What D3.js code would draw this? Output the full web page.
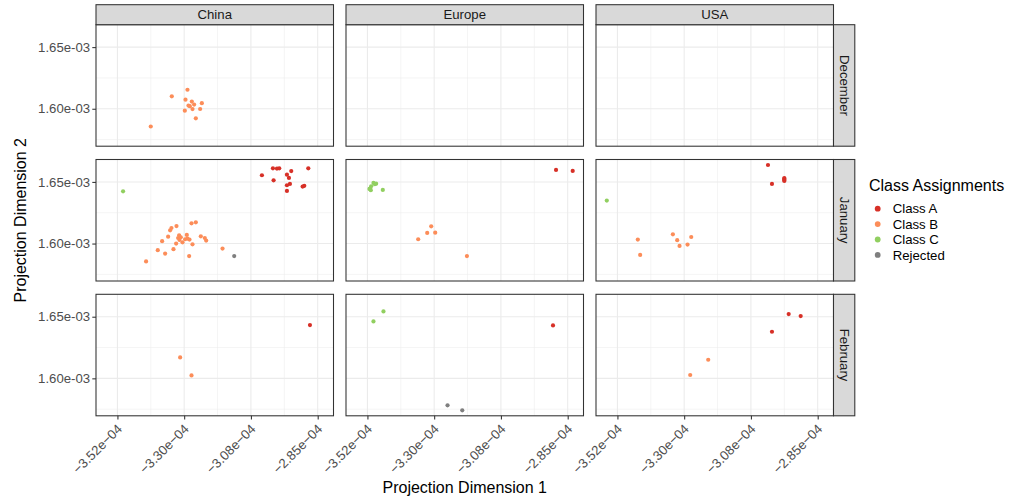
<!DOCTYPE html>
<html><head><meta charset="utf-8">
<script src="https://cdn.jsdelivr.net/npm/d3@7"></script>
<style>body{margin:0;background:#fff} text{font-family:"Liberation Sans",Arial,Helvetica,sans-serif}</style>
</head><body><svg id="chart" width="1010" height="498"></svg>
<script>
const regions = ["China", "Europe", "USA"];
const months = ["December", "January", "February"];
const classes = ["Class A", "Class B", "Class C", "Rejected"];
const classColors = ["#d73027", "#fc8d59", "#91cf60", "#7f7f7f"];
const xBreaks = [-3.52e-4, -3.2978e-4, -3.0756e-4, -2.8533e-4];
const xTickLabels = ["\u22123.52e\u221204", "\u22123.30e\u221204", "\u22123.08e\u221204", "\u22122.85e\u221204"];
const yBreaks = [1.60e-3, 1.65e-3];
const yTickLabels = ["1.60e-03", "1.65e-03"];
const xTitle = "Projection Dimension 1";
const yTitle = "Projection Dimension 2";
const legendTitle = "Class Assignments";

// points: [x, y, class]
const chinaDecember = [
  [-3.2868e-4,1.6154e-3,"Class B"],[-3.339e-4,1.6101e-3,"Class B"],[-3.2934e-4,1.6074e-3,"Class B"],
  [-3.2723e-4,1.6058e-3,"Class B"],[-3.239e-4,1.6045e-3,"Class B"],[-3.2646e-4,1.6034e-3,"Class B"],
  [-3.2835e-4,1.6026e-3,"Class B"],[-3.279e-4,1.6021e-3,"Class B"],[-3.2446e-4,1.5998e-3,"Class B"],
  [-3.27e-4,1.5997e-3,"Class B"],[-3.2956e-4,1.5984e-3,"Class B"],[-3.259e-4,1.5922e-3,"Class B"],
  [-3.409e-4,1.5856e-3,"Class B"]
];
const europeDecember = [];
const usaDecember = [];
const chinaJanuary = [
  [-3.039e-4,1.6554e-3,"Class A"],[-3.0023e-4,1.661e-3,"Class A"],[-2.989e-4,1.6608e-3,"Class A"],
  [-2.9813e-4,1.661e-3,"Class A"],[-2.8846e-4,1.661e-3,"Class A"],[-2.9557e-4,1.6559e-3,"Class A"],
  [-2.9413e-4,1.6588e-3,"Class A"],[-2.949e-4,1.6532e-3,"Class A"],[-3.0001e-4,1.6513e-3,"Class A"],
  [-2.9457e-4,1.6484e-3,"Class A"],[-2.9557e-4,1.6473e-3,"Class A"],[-2.8979e-4,1.6468e-3,"Class A"],
  [-2.9034e-4,1.6462e-3,"Class A"],[-2.9557e-4,1.6427e-3,"Class A"],
  [-3.5012e-4,1.6424e-3,"Class C"],
  [-3.1312e-4,1.5898e-3,"Rejected"],
  [-3.4246e-4,1.5855e-3,"Class B"],[-3.3857e-4,1.5946e-3,"Class B"],[-3.3712e-4,1.6019e-3,"Class B"],
  [-3.3612e-4,1.5919e-3,"Class B"],[-3.3512e-4,1.6056e-3,"Class B"],[-3.3446e-4,1.6107e-3,"Class B"],
  [-3.3401e-4,1.6126e-3,"Class B"],[-3.3234e-4,1.6142e-3,"Class B"],[-3.3334e-4,1.5954e-3,"Class B"],
  [-3.3246e-4,1.6000e-3,"Class B"],[-3.3179e-4,1.6045e-3,"Class B"],[-3.3146e-4,1.6067e-3,"Class B"],
  [-3.3134e-4,1.6029e-3,"Class B"],[-3.309e-4,1.6051e-3,"Class B"],[-3.3034e-4,1.601e-3,"Class B"],
  [-3.2946e-4,1.6035e-3,"Class B"],[-3.289e-4,1.607e-3,"Class B"],[-3.2868e-4,1.604e-3,"Class B"],
  [-3.2801e-4,1.6032e-3,"Class B"],[-3.2734e-4,1.6164e-3,"Class B"],[-3.259e-4,1.6172e-3,"Class B"],
  [-3.2701e-4,1.5994e-3,"Class B"],[-3.2812e-4,1.5898e-3,"Class B"],[-3.2424e-4,1.6059e-3,"Class B"],
  [-3.2291e-4,1.6045e-3,"Class B"],[-3.2246e-4,1.6024e-3,"Class B"],[-3.1701e-4,1.5959e-3,"Class B"]
];
const europeJanuary = [
  [-3.4999e-4,1.6492e-3,"Class C"],[-3.491e-4,1.6486e-3,"Class C"],[-3.4954e-4,1.6481e-3,"Class C"],
  [-3.5077e-4,1.6465e-3,"Class C"],[-3.511e-4,1.6446e-3,"Class C"],[-3.5088e-4,1.6433e-3,"Class C"],
  [-3.5132e-4,1.6443e-3,"Class C"],[-3.4688e-4,1.6435e-3,"Class C"],
  [-2.8921e-4,1.6597e-3,"Class A"],[-2.8366e-4,1.6589e-3,"Class A"],
  [-3.3077e-4,1.614e-3,"Class B"],[-3.321e-4,1.6086e-3,"Class B"],[-3.2943e-4,1.6088e-3,"Class B"],
  [-3.351e-4,1.6035e-3,"Class B"],[-3.1888e-4,1.5898e-3,"Class B"]
];
const usaJanuary = [
  [-3.5554e-4,1.6349e-3,"Class C"],
  [-3.0188e-4,1.6637e-3,"Class A"],[-3.0055e-4,1.6484e-3,"Class A"],[-2.9644e-4,1.6531e-3,"Class A"],
  [-2.9644e-4,1.6524e-3,"Class A"],[-2.9644e-4,1.6516e-3,"Class A"],[-2.9644e-4,1.6508e-3,"Class A"],
  [-3.4521e-4,1.6032e-3,"Class B"],[-3.4443e-4,1.5908e-3,"Class B"],[-3.3354e-4,1.6075e-3,"Class B"],
  [-3.321e-4,1.6027e-3,"Class B"],[-3.2743e-4,1.6053e-3,"Class B"],[-3.3132e-4,1.5981e-3,"Class B"],
  [-3.2866e-4,1.5992e-3,"Class B"]
];
const chinaFebruary = [
  [-2.879e-4,1.6432e-3,"Class A"],
  [-3.3112e-4,1.617e-3,"Class B"],[-3.2734e-4,1.6024e-3,"Class B"]
];
const europeFebruary = [
  [-3.4666e-4,1.6543e-3,"Class C"],[-3.4999e-4,1.6462e-3,"Class C"],
  [-2.9022e-4,1.6429e-3,"Class A"],
  [-3.2533e-4,1.5781e-3,"Rejected"],[-3.2043e-4,1.5741e-3,"Rejected"]
];
const usaFebruary = [
  [-2.9499e-4,1.6521e-3,"Class A"],[-2.9099e-4,1.6505e-3,"Class A"],[-3.0055e-4,1.6378e-3,"Class A"],
  [-3.2177e-4,1.6151e-3,"Class B"],[-3.2777e-4,1.6027e-3,"Class B"]
];

const facetData = {
  "December": [chinaDecember, europeDecember, usaDecember],
  "January": [chinaJanuary, europeJanuary, usaJanuary],
  "February": [chinaFebruary, europeFebruary, usaFebruary]
};

const svg = d3.select("#chart");
const panelLeft = 96, panelTop = 24.7, panelW = 237.5, panelH = 121.5;
const colStep = 250, rowStep = 134.8, stripH = 20, stripW = 21.3;
const FONT_SMALL = "13.2px", FONT_BIG = "16px";

const all = months.flatMap(m => facetData[m].flat());
function expand(ext) { const d = ext[1] - ext[0]; return [ext[0] - 0.05 * d, ext[1] + 0.05 * d]; }
const xDom = expand(d3.extent(all, d => d[0]));
const yDom = expand(d3.extent(all, d => d[1]));
const color = d3.scaleOrdinal().domain(classes).range(classColors);

function minorOf(br) {
  const step = br[1] - br[0];
  const mids = d3.pairs(br).map(([a, b]) => (a + b) / 2);
  return [br[0] - step / 2, ...mids, br[br.length - 1] + step / 2];
}
const xMinor = minorOf(xBreaks), yMinor = minorOf(yBreaks);

months.forEach((month, ri) => {
  regions.forEach((region, ci) => {
    const x0 = panelLeft + ci * colStep, y0 = panelTop + ri * rowStep;
    const x = d3.scaleLinear().domain(xDom).range([x0, x0 + panelW]);
    const y = d3.scaleLinear().domain(yDom).range([y0 + panelH, y0]);
    const g = svg.append("g");
    g.append("rect").attr("x", x0).attr("y", y0).attr("width", panelW).attr("height", panelH).attr("fill", "#fff");
    const inX = v => x(v) >= x0 && x(v) <= x0 + panelW;
    const inY = v => y(v) >= y0 && y(v) <= y0 + panelH;
    g.selectAll(".vmin").data(xMinor.filter(inX)).join("line")
      .attr("x1", d => x(d)).attr("x2", d => x(d)).attr("y1", y0).attr("y2", y0 + panelH)
      .attr("stroke", "#ebebeb").attr("stroke-width", 0.55);
    g.selectAll(".hmin").data(yMinor.filter(inY)).join("line")
      .attr("y1", d => y(d)).attr("y2", d => y(d)).attr("x1", x0).attr("x2", x0 + panelW)
      .attr("stroke", "#ebebeb").attr("stroke-width", 0.55);
    g.selectAll(".vmaj").data(xBreaks).join("line")
      .attr("x1", d => x(d)).attr("x2", d => x(d)).attr("y1", y0).attr("y2", y0 + panelH)
      .attr("stroke", "#ebebeb").attr("stroke-width", 1.07);
    g.selectAll(".hmaj").data(yBreaks).join("line")
      .attr("y1", d => y(d)).attr("y2", d => y(d)).attr("x1", x0).attr("x2", x0 + panelW)
      .attr("stroke", "#ebebeb").attr("stroke-width", 1.07);
    const pts = facetData[month][ci];
    g.selectAll("circle").data(pts).join("circle")
      .attr("cx", d => x(d[0])).attr("cy", d => y(d[1])).attr("r", 2.1)
      .attr("fill", d => color(d[2]));
    g.append("rect").attr("x", x0).attr("y", y0).attr("width", panelW).attr("height", panelH)
      .attr("fill", "none").attr("stroke", "#333333").attr("stroke-width", 1.07);

    // top strips
    if (ri === 0) {
      svg.append("rect").attr("x", x0).attr("y", y0 - stripH).attr("width", panelW).attr("height", stripH)
        .attr("fill", "#d9d9d9").attr("stroke", "#333333").attr("stroke-width", 1.07);
      svg.append("text").attr("x", x0 + panelW / 2).attr("y", y0 - stripH / 2).attr("dy", "0.35em")
        .attr("text-anchor", "middle").attr("font-size", FONT_SMALL).attr("fill", "#1a1a1a").text(region);
    }
    // right strips
    if (ci === regions.length - 1) {
      const sx = x0 + panelW;
      svg.append("rect").attr("x", sx).attr("y", y0).attr("width", stripW).attr("height", panelH)
        .attr("fill", "#d9d9d9").attr("stroke", "#333333").attr("stroke-width", 1.07);
      svg.append("text").attr("transform", `translate(${sx + stripW / 2},${y0 + panelH / 2}) rotate(90)`)
        .attr("dy", "0.35em").attr("text-anchor", "middle").attr("font-size", FONT_SMALL)
        .attr("fill", "#1a1a1a").text(month);
    }
    // y axis
    if (ci === 0) {
      const ax = g.append("g").attr("transform", `translate(${x0},0)`)
        .call(d3.axisLeft(y).tickValues(yBreaks).tickSize(3.7).tickPadding(2.2)
          .tickFormat((d, i) => yTickLabels[i]));
      ax.select(".domain").remove();
      ax.selectAll("line").attr("stroke", "#333333").attr("stroke-width", 1.07);
      ax.selectAll("text").attr("font-size", FONT_SMALL).attr("fill", "#4d4d4d")
        .attr("font-family", '"Liberation Sans",Arial,sans-serif');
    }
    // x axis
    if (ri === months.length - 1) {
      const ax = g.append("g").attr("transform", `translate(0,${y0 + panelH})`)
        .call(d3.axisBottom(x).tickValues(xBreaks).tickSize(3.7).tickFormat((d, i) => xTickLabels[i]));
      ax.select(".domain").remove();
      ax.selectAll("line").attr("stroke", "#333333").attr("stroke-width", 1.07);
      ax.selectAll("text").attr("font-size", FONT_SMALL).attr("fill", "#4d4d4d")
        .attr("font-family", '"Liberation Sans",Arial,sans-serif')
        .attr("text-anchor", "end").attr("y", 0).attr("dy", 0)
        .attr("transform", "translate(5,14) rotate(-45)");
    }
  });
});

// axis titles
const plotRight = panelLeft + 2 * colStep + panelW;
const plotBottom = panelTop + 2 * rowStep + panelH;
svg.append("text").attr("x", (panelLeft + plotRight) / 2).attr("y", 493)
  .attr("text-anchor", "middle").attr("font-size", FONT_BIG).attr("fill", "#000").text(xTitle);
svg.append("text").attr("transform", `translate(20,${(panelTop + plotBottom) / 2}) rotate(-90)`)
  .attr("dy", "0.35em").attr("text-anchor", "middle").attr("font-size", FONT_BIG).attr("fill", "#000").text(yTitle);

// legend
const lg = svg.append("g");
lg.append("text").attr("x", 869).attr("y", 191).attr("font-size", FONT_BIG).attr("fill", "#000").text(legendTitle);
classes.forEach((c, i) => {
  const cy = 208.7 + i * 15.4;
  lg.append("circle").attr("cx", 877.7).attr("cy", cy).attr("r", 2.9).attr("fill", color(c));
  lg.append("text").attr("x", 892.7).attr("y", cy).attr("dy", "0.35em").attr("font-size", FONT_SMALL)
    .attr("fill", "#000").text(c);
});
</script></body></html>
